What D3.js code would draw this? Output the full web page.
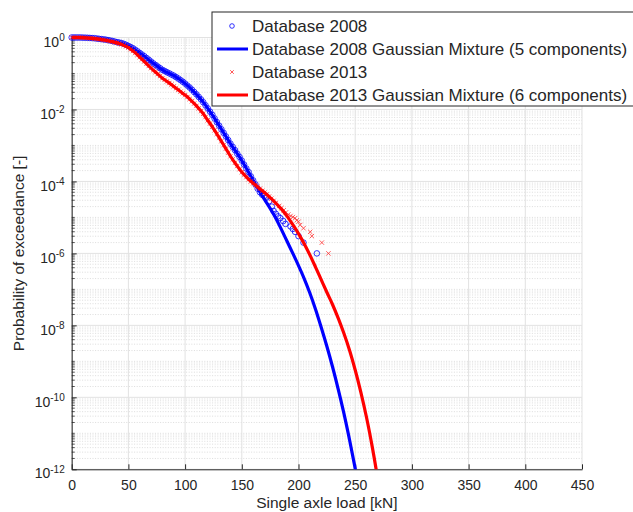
<!DOCTYPE html>
<html><head><meta charset="utf-8">
<script src="https://cdn.jsdelivr.net/npm/d3@7"></script>
<style>
body{margin:0;background:#fff;}
svg text{font-family:"Liberation Sans",Arial,Helvetica,sans-serif;fill:#262626;}
</style></head>
<body><svg id="c" width="633" height="512"></svg>
<script>
// ---- data (log10 of probability of exceedance) ----
const xTicks = [0,50,100,150,200,250,300,350,400,450];
const yTicks = [1e0,1e-2,1e-4,1e-6,1e-8,1e-10,1e-12];
const yTickExp = ["0","-2","-4","-6","-8","-10","-12"];
const legendLabels = ["Database 2008","Database 2008 Gaussian Mixture (5 components)","Database 2013","Database 2013 Gaussian Mixture (6 components)"];

// Database 2008 data points: load [kN], log10 P
const data2008X = [0,2,4,6,8,10,12,14,16,18,20,22,24,26,28,30,32,34,36,38,40,42,44,46,48,50,52,54,56,58,60,62,64,66,68,70,72,74,76,78,80,82,84,86,88,90,92,94,96,98,100,102,104,106,108,110,112,114,116,118,120,122,124,126,128,130,132,134,136,138,140,142,144,146,148,150,152,154,156,158,160,162,164,166,168,170,172,174,176.5,178,180,182,184,186.5,188.5,193,195,197,200,204.4,216.2];
const data2008L = [0,0,0,0,0,-0.003,-0.005,-0.008,-0.012,-0.016,-0.02,-0.028,-0.036,-0.044,-0.052,-0.06,-0.072,-0.084,-0.098,-0.114,-0.13,-0.142,-0.155,-0.178,-0.205,-0.235,-0.265,-0.3,-0.34,-0.385,-0.43,-0.475,-0.52,-0.57,-0.62,-0.67,-0.72,-0.765,-0.81,-0.855,-0.9,-0.93,-0.965,-0.995,-1.03,-1.06,-1.1,-1.14,-1.185,-1.23,-1.28,-1.335,-1.39,-1.45,-1.515,-1.58,-1.65,-1.72,-1.8,-1.885,-1.97,-2.06,-2.15,-2.25,-2.35,-2.45,-2.55,-2.65,-2.75,-2.85,-2.95,-3.04,-3.13,-3.23,-3.32,-3.42,-3.53,-3.64,-3.74,-3.86,-3.97,-4.08,-4.2,-4.3,-4.37,-4.4,-4.45,-4.55,-4.7,-4.82,-4.9,-4.97,-5.02,-5.1,-5.18,-5.25,-5.32,-5.4,-5.52,-5.7,-6.0];

// Database 2008 Gaussian mixture fit
const fit2008X = [0,5,10,15,20,25,30,35,40,45,50,55,60,65,70,75,80,85,90,95,100,105,110,115,120,125,130,135,140,145,150,155,160,165,170,175,180,185,190,195,200,205,210,215,220,225,230,235,240,245,250,255];
const fit2008L = [0,0,-0.003,-0.01,-0.02,-0.04,-0.06,-0.09,-0.13,-0.175,-0.235,-0.32,-0.43,-0.55,-0.67,-0.785,-0.9,-0.98,-1.06,-1.16,-1.28,-1.42,-1.58,-1.76,-1.97,-2.2,-2.45,-2.7,-2.95,-3.18,-3.42,-3.69,-3.97,-4.24,-4.5,-4.75,-5.02,-5.34,-5.67,-6.0,-6.34,-6.7,-7.1,-7.55,-8.05,-8.58,-9.15,-9.77,-10.44,-11.18,-11.98,-12.8];

// Database 2013 data points
const data2013X = [0,2,4,6,8,10,12,14,16,18,20,22,24,26,28,30,32,34,36,38,40,42,44,46,48,50,52,54,56,58,60,62,64,66,68,70,72,74,76,78,80,82,84,86,88,90,92,94,96,98,100,102,104,106,108,110,112,114,116,118,120,122,124,126,128,130,132,134,136,138,140,142,144,146,148,150,152,154,156,158,160,162,164,166,168,170,172,174,176,178,180,183,185,187,189,191,193,195,197,198.5,200,201.5,204.4,210.3,211.8,220.6,226.4];
const data2013L = [0,0,0,0,-0.003,-0.005,-0.009,-0.013,-0.018,-0.024,-0.03,-0.038,-0.046,-0.055,-0.065,-0.075,-0.09,-0.103,-0.118,-0.134,-0.15,-0.17,-0.19,-0.215,-0.245,-0.28,-0.325,-0.375,-0.43,-0.485,-0.545,-0.605,-0.665,-0.73,-0.79,-0.85,-0.905,-0.96,-1.015,-1.07,-1.13,-1.175,-1.22,-1.265,-1.31,-1.36,-1.41,-1.455,-1.505,-1.55,-1.6,-1.655,-1.71,-1.77,-1.835,-1.9,-1.97,-2.04,-2.12,-2.21,-2.3,-2.39,-2.48,-2.58,-2.68,-2.78,-2.88,-2.99,-3.09,-3.2,-3.3,-3.39,-3.48,-3.57,-3.66,-3.74,-3.81,-3.88,-3.94,-4.0,-4.05,-4.1,-4.15,-4.2,-4.26,-4.31,-4.36,-4.42,-4.48,-4.54,-4.6,-4.68,-4.74,-4.8,-4.86,-4.92,-4.96,-4.99,-5.02,-5.08,-5.12,-5.21,-5.3,-5.4,-5.52,-5.7,-6.0];

// Database 2013 Gaussian mixture fit
const fit2013X = [0,5,10,15,20,25,30,35,40,45,50,55,60,65,70,75,80,85,90,95,100,105,110,115,120,125,130,135,140,145,150,155,160,165,170,175,180,185,190,195,200,205,210,215,220,225,230,235,240,245,250,255,260,265,270];
const fit2013L = [0,0,-0.005,-0.015,-0.03,-0.05,-0.075,-0.11,-0.15,-0.205,-0.28,-0.4,-0.545,-0.7,-0.85,-0.99,-1.13,-1.24,-1.36,-1.48,-1.6,-1.74,-1.9,-2.08,-2.3,-2.53,-2.78,-3.04,-3.3,-3.53,-3.74,-3.91,-4.05,-4.18,-4.31,-4.45,-4.6,-4.77,-4.97,-5.2,-5.45,-5.73,-6.04,-6.38,-6.73,-7.08,-7.42,-7.8,-8.22,-8.69,-9.24,-9.86,-10.56,-11.37,-12.29];

// ---- drawing ----
const svg = d3.select("#c");
const X0 = 71.7, X1 = 582, YT = 37.5, YB = 469.3;
const x = d3.scaleLinear().domain([0,450]).range([X0,X1]);
const y = d3.scaleLog().domain([1e-12,1]).range([YB,YT]);
const P = l => Math.pow(10,l);
const zip = (a,b) => a.map((v,i)=>[v,b[i]]);

// grid
const gridG = svg.append("g");
const minorY = [];
for (let k=-12;k<0;k++){ for (let m=1;m<=9;m++){ const v=m*Math.pow(10,k); if(!(m===1 && k%2===0)) minorY.push(v);} }
gridG.selectAll("line.mn").data(minorY).join("line")
  .attr("x1",X0).attr("x2",X1).attr("y1",d=>y(d)).attr("y2",d=>y(d))
  .attr("stroke","#d4d4d4").attr("stroke-width",0.8).attr("stroke-dasharray","1,1.6");
gridG.selectAll("line.mjy").data(yTicks).join("line")
  .attr("x1",X0).attr("x2",X1).attr("y1",d=>y(d)).attr("y2",d=>y(d))
  .attr("stroke","#e2e2e2").attr("stroke-width",1);
gridG.selectAll("line.mjx").data(xTicks).join("line").attr("class","mjx")
  .attr("x1",d=>x(d)).attr("x2",d=>x(d)).attr("y1",YT).attr("y2",YB)
  .attr("stroke","#e2e2e2").attr("stroke-width",1);

// axes
const xAxis = svg.append("g").attr("transform",`translate(0,${YB})`)
  .call(d3.axisBottom(x).tickValues(xTicks).tickSizeInner(-5).tickSizeOuter(0).tickPadding(11));
xAxis.select(".domain").attr("stroke","#262626");
xAxis.selectAll(".tick line").attr("stroke","#262626");
xAxis.selectAll("text").attr("font-size",14).attr("fill","#262626");

const yAxis = svg.append("g").attr("transform",`translate(${X0},0)`)
  .call(d3.axisLeft(y).tickValues(yTicks).tickSizeInner(-5).tickSizeOuter(0).tickPadding(7).tickFormat(""));
yAxis.select(".domain").attr("stroke","#262626");
yAxis.selectAll(".tick line").attr("stroke","#262626");
yAxis.selectAll(".tick text").each(function(d,i){
  const t = d3.select(this).attr("font-size",14).attr("text-anchor","end").attr("fill","#262626").attr("dy","0.62em").attr("x",-7);
  t.text(null);
  t.append("tspan").text("10");
  t.append("tspan").attr("dy","-0.55em").attr("font-size",10).text(yTickExp[i]);
});
// minor y ticks
svg.append("g").selectAll("line").data(minorY).join("line")
  .attr("x1",X0).attr("x2",X0+3).attr("y1",d=>y(d)).attr("y2",d=>y(d))
  .attr("stroke","#262626").attr("stroke-width",0.8);

// labels
svg.append("text").attr("x",(X0+X1)/2).attr("y",508).attr("text-anchor","middle")
  .attr("font-size",15.5).text("Single axle load [kN]");
svg.append("text").attr("transform",`translate(24,${(YT+YB)/2}) rotate(-90)`).attr("text-anchor","middle")
  .attr("font-size",15.5).text("Probability of exceedance [-]");

// plot content
svg.append("clipPath").attr("id","clip").append("rect").attr("x",X0-4).attr("y",YT-4).attr("width",X1-X0+8).attr("height",YB-YT+4);
const plot = svg.append("g").attr("clip-path","url(#clip)");
const line = d3.line().x(d=>x(d[0])).y(d=>y(P(d[1]))).curve(d3.curveCatmullRom.alpha(0.5));
const xMark = s => `M${-s},${-s}L${s},${s}M${-s},${s}L${s},${-s}`;

plot.append("g").selectAll("circle").data(zip(data2008X,data2008L)).join("circle")
  .attr("cx",d=>x(d[0])).attr("cy",d=>y(P(d[1]))).attr("r",2.8)
  .attr("fill","none").attr("stroke","#0000ff").attr("stroke-width",0.8);
plot.append("path").datum(zip(fit2008X,fit2008L)).attr("d",line)
  .attr("fill","none").attr("stroke","#0000ff").attr("stroke-width",3.2);
plot.append("g").selectAll("path").data(zip(data2013X,data2013L)).join("path")
  .attr("transform",d=>`translate(${x(d[0])},${y(P(d[1]))})`).attr("d",xMark(2.2))
  .attr("fill","none").attr("stroke","#ff3030").attr("stroke-width",0.8);
plot.append("path").datum(zip(fit2013X,fit2013L)).attr("d",line)
  .attr("fill","none").attr("stroke","#ff0000").attr("stroke-width",3.2);

// legend
const lg = svg.append("g");
lg.append("rect").attr("x",212).attr("y",12).attr("width",440).attr("height",94)
  .attr("fill","#fff").attr("stroke","#262626").attr("stroke-width",1);
const rowsY = [26,49,72,95];
legendLabels.forEach((lab,i)=>{
  const yy = rowsY[i];
  const col = i<2 ? "#0000ff" : "#ff0000";
  if (i===0) lg.append("circle").attr("cx",232).attr("cy",yy).attr("r",2.3).attr("fill","none").attr("stroke",col).attr("stroke-width",0.8);
  if (i===2) lg.append("path").attr("transform",`translate(232,${yy})`).attr("d",xMark(1.8)).attr("stroke","#ff3030").attr("stroke-width",0.8);
  if (i===1||i===3) lg.append("line").attr("x1",217).attr("x2",248).attr("y1",yy).attr("y2",yy).attr("stroke",col).attr("stroke-width",3);
  lg.append("text").attr("x",252).attr("y",yy).attr("dy","0.36em").attr("font-size",17).text(lab);
});
</script></body></html>
